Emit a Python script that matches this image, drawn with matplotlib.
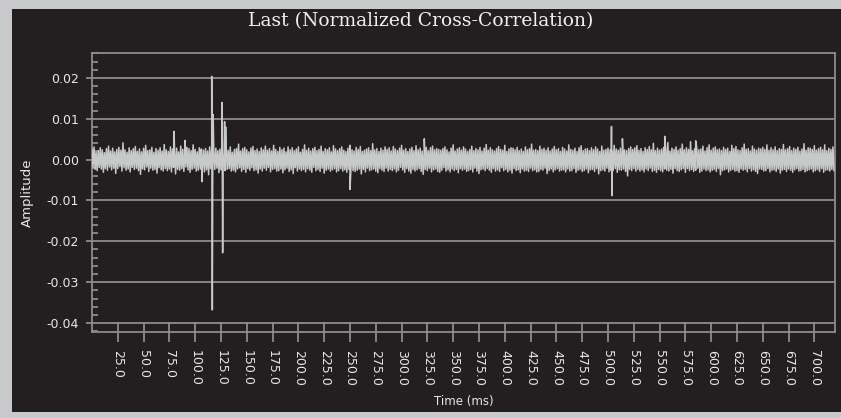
import numpy as np
import matplotlib
matplotlib.use("Agg")
import matplotlib.pyplot as plt
from matplotlib.patches import Rectangle
from matplotlib.ticker import MultipleLocator, FixedLocator

# ---- data ---------------------------------------------------------------
# background noise, one sample every 1 ms, values in units of 1e-4
sample_step_ms = 1.0
noise = [
    26, -20, 31, -24, 18, -27, 22, -19, 29, -23, 24, -31, 17, -22, 27, -26, 33, -18, 21, -25, 28, -21, 19, -34,
    25, -22, 30, -17, 23, -28, 41, -20, 24, -26, 18, -23, 29, -30, 22, -19, 27, -24, 32, -21, 20, -27, 26, -36,
    19, -23, 28, -25, 35, -18, 22, -29, 24, -21, 30, -26, 18, -24, 27, -33, 23, -20, 29, -25, 21, -28, 37, -22,
    24, -27, 20, -23, 31, -30, 26, -19, 22, -35, 28, -24, 19, -26, 33, -22, 25, -29, 21, -18, 30, -25, 27, -31,
    22, -24, 36, -21, 25, -28, 19, -26, 29, -23, 26, -20, 23, -30, 27, -25, 21, -37, 31, -22, 24, -27, 20, -24,
    28, -21, 22, -32, 26, -25, 34, -19, 20, -27, 29, -24, 23, -22, 31, -28, 18, -26, 25, -30, 27, -23, 38, -20,
    21, -29, 27, -24, 30, -31, 24, -22, 19, -26, 28, -20, 32, -27, 22, -25, 26, -33, 20, -23, 29, -28, 24, -21,
    33, -26, 23, -19, 27, -30, 21, -24, 35, -22, 25, -28, 20, -27, 30, -23, 24, -32, 28, -25, 19, -21, 31, -29,
    24, -25, 29, -34, 22, -20, 26, -28, 31, -23, 18, -27, 25, -24, 36, -30, 23, -22, 28, -26, 21, -31, 27, -19,
    30, -27, 22, -24, 25, -29, 33, -21, 20, -33, 27, -26, 24, -23, 29, -28, 19, -25, 34, -22, 26, -30, 22, -27,
    27, -22, 31, -28, 23, -25, 20, -31, 28, -24, 35, -20, 24, -27, 21, -29, 30, -26, 25, -23, 32, -35, 20, -24,
    23, -30, 26, -21, 29, -27, 22, -25, 39, -23, 24, -28, 27, -32, 20, -22, 28, -26, 23, -29, 31, -21, 25, -28,
    29, -24, 21, -27, 32, -23, 26, -30, 22, -26, 28, -19, 35, -25, 23, -31, 27, -22, 20, -28, 26, -33, 30, -24,
    22, -28, 34, -25, 24, -22, 28, -29, 21, -36, 25, -24, 30, -27, 22, -21, 29, -30, 33, -25, 24, -23, 27, -29,
    25, -31, 23, -26, 27, -20, 31, -28, 24, -25, 19, -30, 28, -23, 36, -27, 21, -24, 26, -32, 29, -22, 23, -26,
    31, -23, 26, -29, 20, -27, 25, -24, 33, -30, 22, -21, 27, -28, 24, -34, 30, -25, 21, -23, 28, -27, 37, -22,
    23, -26, 29, -31, 24, -22, 21, -28, 27, -25, 32, -29, 25, -20, 23, -27, 35, -24, 20, -30, 26, -26, 29, -33,
    28, -22, 24, -27, 30, -25, 22, -32, 26, -23, 20, -28, 31, -26, 24, -29, 27, -21, 38, -27, 23, -25, 25, -30,
    22, -29, 33, -24, 25, -26, 28, -21, 23, -34, 29, -27, 21, -23, 26, -30, 32, -25, 24, -22, 27, -28, 20, -26,
    30, -25, 26, -30, 21, -23, 36, -28, 25, -27, 23, -22, 28, -31, 20, -26, 29, -24, 34, -29, 22, -27, 26, -23,
    27, -32, 22, -25, 29, -24, 24, -29, 31, -22, 26, -35, 20, -27, 33, -25, 23, -28, 25, -21, 28, -30, 24, -26,
    21, -27, 35, -22, 26, -31, 23, -25, 28, -26, 30, -23, 24, -29, 22, -40, 27, -24, 31, -27, 25, -22, 29, -28,
    34, -24, 23, -28, 27, -25, 20, -30, 29, -23, 25, -27, 32, -21, 24, -29, 40, -26, 22, -31, 28, -24, 23, -27,
    26, -30, 30, -23, 24, -26, 42, -28, 21, -24, 28, -33, 25, -22, 31, -27, 23, -29, 27, -25, 38, -22, 24, -31,
    29, -22, 25, -27, 44, -24, 22, -29, 27, -26, 30, -21, 24, -31, 26, -28, 33, -23, 21, -27, 29, -25, 36, -30,
    23, -26, 28, -24, 31, -29, 24, -22, 26, -37, 22, -27, 30, -25, 25, -23, 28, -30, 20, -26, 35, -24, 27, -28,
    32, -27, 24, -31, 22, -23, 29, -26, 38, -24, 25, -30, 27, -22, 21, -28, 33, -25, 26, -29, 23, -34, 28, -23,
    26, -24, 30, -28, 25, -27, 36, -22, 23, -30, 29, -26, 24, -25, 31, -29, 22, -23, 27, -33, 25, -26, 37, -24,
    24, -29, 27, -23, 32, -26, 22, -31, 28, -25, 25, -22, 30, -28, 21, -27, 26, -24, 39, -30, 23, -27, 29, -25,
    28, -23, 25, -30, 34, -27, 23, -24, 27, -29, 30, -22, 24, -31, 36, -26, 22, -25, 28, -28, 25, -24, 31, -27,
]

# isolated correlation peaks (time in ms, value in units of 1e-4)
spike_t = [79.5, 90.2, 106.7, 116.0, 116.6, 117.4, 126.0, 126.6, 128.5, 129.5,
           250.0, 322.0, 503.4, 503.8, 514.0, 555.0, 585.0]
spike_v = [69, 47, -54, 204, -368, 110, 140, -228, 93, 80,
           -73, 51, 81, -88, 51, 57, 46]

xticks = [25.0 * k for k in range(1, 29)]
yticks = [0.02, 0.01, 0.00, -0.01, -0.02, -0.03, -0.04]

# ---- build the trace ------------------------------------------------------
t = np.concatenate([np.arange(len(noise)) * sample_step_ms, spike_t])
v = np.concatenate([noise, spike_v]) * 1e-4
order = np.argsort(t, kind="stable")
t, v = t[order], v[order]

# ---- figure -----------------------------------------------------------------
W, H = 841, 418
fig = plt.figure(figsize=(W / 100, H / 100), dpi=100, facecolor="#c8c9cb")
fig.patches.append(Rectangle((12 / W, 6 / H), 1 - 12 / W, (412 - 9) / H,
                             transform=fig.transFigure, facecolor="#231f20",
                             edgecolor="none", zorder=-1))

ax = fig.add_axes([92 / W, (H - 332) / H, (835 - 92) / W, (332 - 53) / H])
ax.set_zorder(2)
ax.set_facecolor("#231f20")
ax.plot(t, v, color="#c8c9cb", lw=1.1, zorder=3)

ax.set_xlim(0, 720)
ax.set_ylim(-0.0422, 0.0261)

grid_c = "#8c8c8c"
txt_c = "#e8e8e8"
for s in ax.spines.values():
    s.set_color(grid_c)
    s.set_linewidth(1.3)

ax.yaxis.set_major_locator(FixedLocator(yticks))
ax.yaxis.set_minor_locator(MultipleLocator(0.002))
ax.set_yticklabels([f"{y:.2f}" for y in yticks])
ax.tick_params(axis="y", which="major", direction="out", length=4.5, width=1.3,
               color=grid_c, labelcolor=txt_c, labelsize=9, pad=5)
ax.tick_params(axis="y", which="minor", direction="in", length=4.5, width=1.3,
               color=grid_c)
ax.yaxis.grid(True, which="major", color=grid_c, lw=1.3, zorder=1)

ax.xaxis.set_major_locator(FixedLocator(xticks))
ax.set_xticklabels([f"{x:.1f}" for x in xticks], rotation=-90)
ax.tick_params(axis="x", which="major", direction="inout", length=14.5, width=1.3,
               color=grid_c, labelcolor=txt_c, labelsize=9, pad=6)

ax.set_xlabel("Time (ms)", color=txt_c, fontsize=8.5, labelpad=6)
ax.set_ylabel("Amplitude", color=txt_c, fontsize=9.5, labelpad=9)

fig.text(0.5, (H - 21) / H, "Last (Normalized Cross-Correlation)", ha="center",
         va="center", color="#f0f0f0", fontsize=13.5, family="DejaVu Serif")

fig.savefig("out.png", dpi=100, facecolor=fig.get_facecolor())
